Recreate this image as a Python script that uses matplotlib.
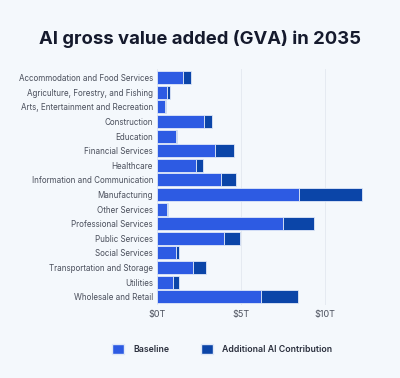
import matplotlib.pyplot as plt
from matplotlib.patches import Patch

sectors = [
    "Accommodation and Food Services",
    "Agriculture, Forestry, and Fishing",
    "Arts, Entertainment and Recreation",
    "Construction",
    "Education",
    "Financial Services",
    "Healthcare",
    "Information and Communication",
    "Manufacturing",
    "Other Services",
    "Professional Services",
    "Public Services",
    "Social Services",
    "Transportation and Storage",
    "Utilities",
    "Wholesale and Retail",
]
baseline = [1.51, 0.56, 0.48, 2.78, 1.13, 3.43, 2.28, 3.77, 8.43, 0.60, 7.50, 4.00, 1.09, 2.16, 0.97, 6.17]
additional = [0.49, 0.21, 0.06, 0.49, 0.04, 1.15, 0.44, 0.91, 3.75, 0.03, 1.83, 0.92, 0.20, 0.72, 0.30, 2.24]
xticks = [0, 5, 10]
xtick_labels = ["$0T", "$5T", "$10T"]

BG = "#f4f8fc"
C_BASE = "#2d5be3"
C_ADD = "#0b45a8"

plt.rcParams["font.family"] = ["Inter", "DejaVu Sans"]

fig = plt.figure(figsize=(4, 3.78), dpi=100, facecolor=BG)
ax = fig.add_axes([0.393, 0.192, 0.525, 0.6255], facecolor=BG)

y = list(range(len(sectors)))
ax.barh(y, baseline, height=0.9, color=C_BASE, edgecolor="#dfe8f8", linewidth=0.6, zorder=3)
ax.barh(y, additional, left=baseline, height=0.9, color=C_ADD, edgecolor="#dfe8f8", linewidth=0.6, zorder=3)

ax.set_ylim(15.6, -0.6)
ax.set_xlim(0, 12.5)
ax.set_yticks(y)
ax.set_yticklabels(sectors, fontsize=5.8, color="#4a4f5c")
ax.set_xticks(xticks)
ax.set_xticklabels(xtick_labels, fontsize=6.5, color="#4a4f5c")
ax.tick_params(axis="both", length=0, pad=3)
ax.grid(axis="x", color="#e3e8ef", linewidth=0.6, zorder=0)
for s in ax.spines.values():
    s.set_visible(False)

fig.text(0.5, 0.896, "AI gross value added (GVA) in 2035", ha="center", va="center",
         fontsize=13.3, fontweight="bold", color="#151a2d")

handles = [Patch(facecolor=C_BASE, edgecolor="#dfe8f8", label="Baseline"),
           Patch(facecolor=C_ADD, edgecolor="#dfe8f8", label="Additional AI Contribution")]
leg = fig.legend(handles=handles, loc="center", bbox_to_anchor=(0.555, 0.077), ncol=2,
                 frameon=False, fontsize=6.3, handlelength=1.45, handleheight=1.45,
                 columnspacing=3.6, handletextpad=1.0)
for t in leg.get_texts():
    t.set_color("#2a2f3d")
    t.set_fontweight("semibold")

fig.savefig("out.png", dpi=100, facecolor=BG)
